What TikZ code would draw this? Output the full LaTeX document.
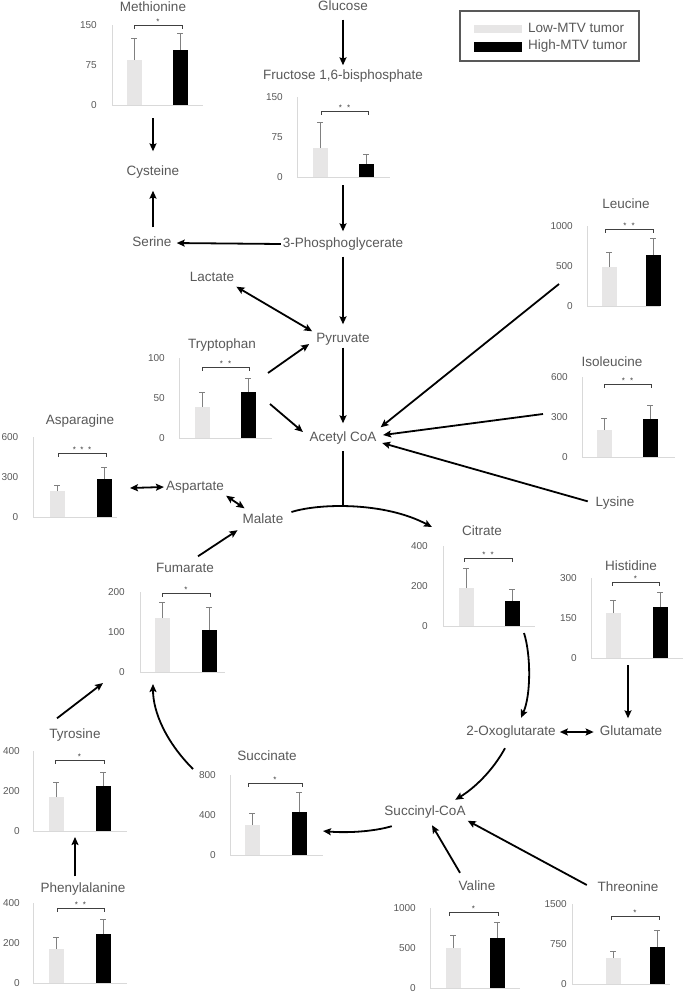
\documentclass[tikz,border=0pt]{standalone}
\usepackage{fontspec}
\setmainfont{Liberation Sans}
\usetikzlibrary{arrows.meta,calc}
\definecolor{txt}{HTML}{595959}
\definecolor{lowc}{HTML}{E7E6E6}
\definecolor{axc}{HTML}{D9D9D9}
\definecolor{errc}{HTML}{808080}
\definecolor{brc}{HTML}{404040}
\tikzset{
  mytip/.tip={Stealth[length=8pt,width=7pt,inset=1.5pt]},
  lbl/.style={font=\fontsize{13.5}{16}\selectfont, text=txt, inner sep=2pt, text height=10pt, text depth=3pt},
  ticklbl/.style={font=\fontsize{10}{12}\selectfont, text=txt, inner sep=0pt, anchor=east},
  starlbl/.style={font=\fontsize{8}{9}\selectfont, text=brc, inner sep=0pt},
  arr/.style={line width=1.8pt, -mytip},
  darr/.style={line width=1.8pt, mytip-mytip},
  plainln/.style={line width=1.8pt},
  axisln/.style={draw=axc, line width=0.9pt},
  errln/.style={draw=errc, line width=1pt},
  brln/.style={draw=brc, line width=1pt},
}
% #1 name, #2 axis x, #3 bottom y, #4 right x, #5 label right x, #6 top label, #7 mid label
\newcommand{\chartaxes}[7]{%
  \draw[axisln] (#2,#3-80) -- (#2,#3) -- (#4,#3);
  \node[ticklbl] (#1t) at (#5,#3-80) {#6};
  \node[ticklbl] (#1m) at (#5,#3-40) {#7};
  \node[ticklbl] (#1z) at (#5,#3) {0};
}
% #1 bottom y, #2 light left x, #3 dark left x, #4 light h, #5 light err h, #6 dark h, #7 dark err h
\newcommand{\chartbars}[7]{%
  \fill[lowc] (#2,#1) rectangle (#2+14.5,#1-#4);
  \draw[errln] (#2+7.25,#1-#4) -- (#2+7.25,#1-#5) (#2+4.25,#1-#5) -- (#2+10.25,#1-#5);
  \fill[black] (#3,#1) rectangle (#3+14.5,#1-#6);
  \draw[errln] (#3+7.25,#1-#6) -- (#3+7.25,#1-#7) (#3+4.25,#1-#7) -- (#3+10.25,#1-#7);
}
% #1 name, #2 bottom y, #3 x1, #4 x2, #5 h, #6 stars
\newcommand{\chartbracket}[6]{%
  \draw[brln] (#3,#2-#5+3.5) -- (#3,#2-#5) -- (#4,#2-#5) -- (#4,#2-#5+3.5);
  \node[starlbl] (#1) at ({(#3+#4)/2},#2-#5-3) {#6};
}
\newcommand{\onestar}{*}
\newcommand{\twostar}{*\hspace{5pt}*}
\newcommand{\threestar}{*\hspace{4.5pt}*\hspace{4.5pt}*}
\begin{document}
\begin{tikzpicture}[x=1pt,y=-1pt]
\useasboundingbox (0,0) rectangle (685,993);
\fill[white] (0,0) rectangle (685,993);

% ---------- legend ----------
\node[draw=txt, line width=1.2pt, minimum width=179pt, minimum height=50pt, inner sep=0pt] (legend) at (549.5,36) {};
\fill[lowc] (474,25) rectangle (522,33);
\fill[black] (474,42) rectangle (522,52);
\node[lbl, anchor=west] (lowlbl) at (526,29) {Low-MTV tumor};
\node[lbl, anchor=west] (highlbl) at (526,46) {High-MTV tumor};

% ---------- labels ----------
\node[lbl] (glucose) at (343,7) {Glucose};
\node[lbl] (fru) at (343,76) {Fructose 1,6-bisphosphate};
\node[lbl] (pg3) at (343,244) {3-Phosphoglycerate};
\node[lbl] (serine) at (152,243) {Serine};
\node[lbl] (cysteine) at (153,172) {Cysteine};
\node[lbl] (met) at (153,8) {Methionine};
\node[lbl] (lactate) at (212,278) {Lactate};
\node[lbl] (pyruvate) at (343,339) {Pyruvate};
\node[lbl] (acetyl) at (343,438) {Acetyl CoA};
\node[lbl] (trp) at (222,345) {Tryptophan};
\node[lbl] (leu) at (626,205) {Leucine};
\node[lbl] (ile) at (612,363) {Isoleucine};
\node[lbl] (lysine) at (615,503) {Lysine};
\node[lbl] (asn) at (80,421) {Asparagine};
\node[lbl] (aspartate) at (195,487) {Aspartate};
\node[lbl] (malate) at (263,520) {Malate};
\node[lbl] (fum) at (185,569) {Fumarate};
\node[lbl] (citrate) at (482,532) {Citrate};
\node[lbl] (his) at (631,567) {Histidine};
\node[lbl] (oxo) at (511,732) {2-Oxoglutarate};
\node[lbl] (glutamate) at (631,732) {Glutamate};
\node[lbl] (succoa) at (425,812) {Succinyl-CoA};
\node[lbl] (succ) at (267,757) {Succinate};
\node[lbl] (tyr) at (75,735) {Tyrosine};
\node[lbl] (phe) at (83,889) {Phenylalanine};
\node[lbl] (val) at (477,887) {Valine};
\node[lbl] (thr) at (628,888) {Threonine};

% ---------- charts ----------
\chartaxes{metA}{112}{105}{203}{97}{150}{75}
\chartbars{105}{127}{173}{45}{67}{55}{72}
\chartbracket{metS}{105}{134}{182}{80}{\onestar}

\chartaxes{fruA}{297}{177}{390}{283}{150}{75}
\chartbars{177}{313}{359}{29}{55}{13}{23}
\chartbracket{fruS}{177}{321}{368}{66}{\twostar}

\chartaxes{leuA}{587}{306}{660}{573}{1000}{500}
\chartbars{306}{602}{646}{39}{54}{51}{68}
\chartbracket{leuS}{306}{605}{653}{77}{\twostar}

\chartaxes{ileA}{582}{457}{675}{568}{600}{300}
\chartbars{457}{597}{643}{27}{39}{38}{52}
\chartbracket{ileS}{457}{604}{651}{73}{\twostar}

\chartaxes{trpA}{179}{438}{272}{165}{100}{50}
\chartbars{438}{195}{241}{31}{46}{46}{60}
\chartbracket{trpS}{438}{202}{249}{71}{\twostar}

\chartaxes{asnA}{33}{517}{117}{18.5}{600}{300}
\chartbars{517}{50}{97}{26}{32}{38}{50}
\chartbracket{asnS}{517}{58}{106}{64}{\threestar}

\chartaxes{fumA}{140}{672}{225}{125}{200}{100}
\chartbars{672}{155}{202}{54}{70}{42}{65}
\chartbracket{fumS}{672}{162}{210}{79}{\onestar}

\chartaxes{citA}{443}{626}{535}{428}{400}{200}
\chartbars{626}{459}{505}{38}{58}{25}{37}
\chartbracket{citS}{626}{464}{512}{68}{\twostar}

\chartaxes{hisA}{591}{658}{683}{577}{300}{150}
\chartbars{658}{606}{653}{45}{58}{51}{66}
\chartbracket{hisS}{658}{612}{659}{76}{\onestar}

\chartaxes{tyrA}{33}{831}{127}{20}{400}{200}
\chartbars{831}{49}{96}{34}{49}{45}{59}
\chartbracket{tyrS}{831}{55}{104}{71}{\onestar}

\chartaxes{sucA}{230}{855}{323}{216}{800}{400}
\chartbars{855}{245}{292}{30}{42}{43}{63}
\chartbracket{sucS}{855}{248}{302}{72}{\onestar}

\chartaxes{pheA}{33}{983}{127}{20}{400}{200}
\chartbars{983}{49}{96}{34}{46}{49}{64}
\chartbracket{pheS}{983}{57}{104}{75}{\twostar}

\chartaxes{valA}{430}{988}{520}{416}{1000}{500}
\chartbars{988}{446}{490}{40}{53}{50}{66}
\chartbracket{valS}{988}{449}{498}{76}{\onestar}

\chartaxes{thrA}{572}{984}{670}{567}{1500}{750}
\chartbars{984}{606}{650}{26}{33}{37}{54}
\chartbracket{thrS}{984}{611}{659}{68}{\onestar}

% ---------- chart attachment points ----------
\coordinate (fruOut) at (343,185);
\coordinate (metOut) at (153,118);
\coordinate (trpOut1) at (268,373);
\coordinate (trpOut2) at (270,404);
\coordinate (leuOut) at (559,284);
\coordinate (ileOut) at (543,414);
\coordinate (asnOut) at (130,488);
\coordinate (tcajoin) at (343,506);
\coordinate (citOut) at (524,633);
\coordinate (hisOut) at (628,665);
\coordinate (succIn) at (323,831);
\coordinate (succOut) at (193,769);
\coordinate (fumIn) at (153,684);
\coordinate (fumIn2) at (103,683);
\coordinate (tyrIn) at (75,837);

% ---------- connectors ----------
\draw[arr, shorten <=4pt, shorten >=2pt] (glucose) -- (fru);
\draw[arr, shorten >=4pt] (fruOut) -- (pg3);
\draw[arr, shorten >=3pt] (pg3.west) -- (serine.east);
\draw[arr, shorten >=12pt] (metOut) -- (metOut |- cysteine.north);
\draw[arr, shorten <=7pt, shorten >=10pt] (serine.north -| cysteine.south) -- (cysteine.south);
\draw[darr] (lactate.south east) -- ([shift={(-2,1)}]pyruvate.north west);
\draw[arr, shorten <=4pt, shorten >=6pt] (pg3) -- (pyruvate);
\draw[arr, shorten >=6pt] (pyruvate) -- (acetyl);
\draw[arr] (trpOut1) -- ([shift={(-5,5)}]pyruvate.west);
\draw[arr] (trpOut2) -- ([shift={(-4.5,-6)}]acetyl.west);
\draw[arr] (leuOut) -- ([shift={(2,-2)}]acetyl.north east);
\draw[arr] (ileOut) -- ([shift={(4.5,-3)}]acetyl.east);
\draw[arr, shorten <=6pt] (lysine.west) -- ([shift={(3.6,5)}]acetyl.east);
\draw[darr] (asnOut) -- (aspartate.west);
\draw[darr] (aspartate.south east) -- ([shift={(4,-3)}]malate.north west);
\draw[arr] ([shift={(13,-4)}]fum.north) -- ([shift={(-3,1.5)}]malate.south west);
\draw[plainln, shorten <=4.5pt] (acetyl) -- (tcajoin);
\draw[arr] ([shift={(6,-8)}]malate.east) .. controls (320,503) and (385,502) .. ([shift={(-28,-5)}]citrate.west);
\draw[arr] (citOut) .. controls (531,655) and (531,695) .. ([shift={(10,-5.5)}]oxo.north);
\draw[arr, shorten >=5pt] (hisOut) -- (hisOut |- glutamate.north);
\draw[darr, shorten <=2pt, shorten >=4pt] (oxo.east) -- (glutamate.west);
\draw[arr] ([shift={(-6,7.5)}]oxo.south) .. controls (492,772) and (473,789) .. ([shift={(-12.5,-3.5)}]succoa.north east);
\draw[arr] ([shift={(9.5,5.5)}]succoa.south west) .. controls (372,832) and (345,833) .. (succIn);
\draw[arr] ([shift={(-17,-5.5)}]val.north) -- ([shift={(7,4.5)}]succoa.south);
\draw[arr] ([shift={(-8.6,-3)}]thr.west) -- (succoa.south east);
\draw[arr] (succOut) .. controls (166,742) and (153,712) .. (fumIn);
\draw[arr] ([shift={(-18,-8)}]tyr.north) -- (fumIn2);
\draw[arr] ([shift={(-8,-4)}]phe.north) -- (tyrIn);
\end{tikzpicture}
\end{document}
